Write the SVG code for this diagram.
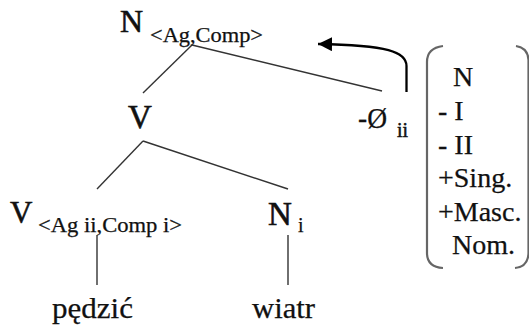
<svg xmlns="http://www.w3.org/2000/svg" width="529" height="329" viewBox="0 0 529 329">
<style>
text{font-family:"Liberation Serif","DejaVu Serif",serif;fill:#111;stroke:#111;stroke-width:0.25}
.big{font-size:32px}
.sub{font-size:20px}
.word{font-size:30px}
.feat{font-size:28px}
.edge{stroke:#333;stroke-width:1.4;fill:none}
.brk{stroke:#666;stroke-width:2.2;fill:none}
</style>
<defs>
<marker id="ah" markerWidth="16" markerHeight="14" refX="14" refY="7" orient="auto" markerUnits="userSpaceOnUse">
<polygon points="0,0 14,7 0,14" fill="#000"/>
</marker>
</defs>
<g id="connectors">
<line class="edge" x1="192" y1="45" x2="143" y2="93"/>
<line class="edge" x1="192" y1="45" x2="382" y2="91"/>
<line class="edge" x1="143" y1="141" x2="97" y2="189"/>
<line class="edge" x1="143" y1="141" x2="288" y2="189"/>
<line class="edge" x1="97" y1="235" x2="97" y2="285"/>
<line class="edge" x1="288" y1="235" x2="288" y2="285"/>
<path d="M406.5,92 V66 C406.5,52 388,45 318,44" stroke="#000" stroke-width="2.3" fill="none" marker-end="url(#ah)"/>
</g>
<g id="node-N-top">
<text class="big" x="120" y="32" style="stroke-width:0.6">N</text>
<text class="sub" x="150" y="42" textLength="113" lengthAdjust="spacingAndGlyphs">&lt;Ag,Comp&gt;</text>
</g>
<g id="node-V-mid">
<text class="big" x="128" y="128" style="font-size:33px;stroke-width:0.6">V</text>
</g>
<g id="node-null">
<text x="358" y="128" style="font-size:30px" textLength="29" lengthAdjust="spacingAndGlyphs">-Ø</text>
<text class="sub" x="397" y="137" textLength="11" lengthAdjust="spacingAndGlyphs" style="stroke-width:0.5">ii</text>
</g>
<g id="node-V-low">
<text class="big" x="10" y="223" style="font-size:31px;stroke-width:0.6">V</text>
<text class="sub" x="38" y="232" textLength="144" lengthAdjust="spacingAndGlyphs">&lt;Ag ii,Comp i&gt;</text>
</g>
<g id="node-N-low">
<text class="big" x="268" y="225" style="font-size:33px;stroke-width:0.6">N</text>
<text class="sub" x="298" y="232">i</text>
</g>
<g id="node-pedzic">
<text class="word" x="52" y="318" textLength="81" lengthAdjust="spacingAndGlyphs">pędzić</text>
</g>
<g id="node-wiatr">
<text class="word" x="252" y="318" textLength="63" lengthAdjust="spacingAndGlyphs">wiatr</text>
</g>
<g id="features">
<path class="brk" d="M443,46 Q427,48 427,62 V253 Q427,267 443,268"/>
<path class="brk" d="M516,46 Q528,48 528.5,60 V253 Q528,267 515,268"/>
<text class="feat" x="453" y="86">N</text>
<text class="feat" x="438" y="120">- I</text>
<text class="feat" x="438" y="153.5">- II</text>
<text class="feat" x="438" y="187">+Sing.</text>
<text class="feat" x="438" y="220.5">+Masc.</text>
<text class="feat" x="452" y="254">Nom.</text>
</g>
</svg>
